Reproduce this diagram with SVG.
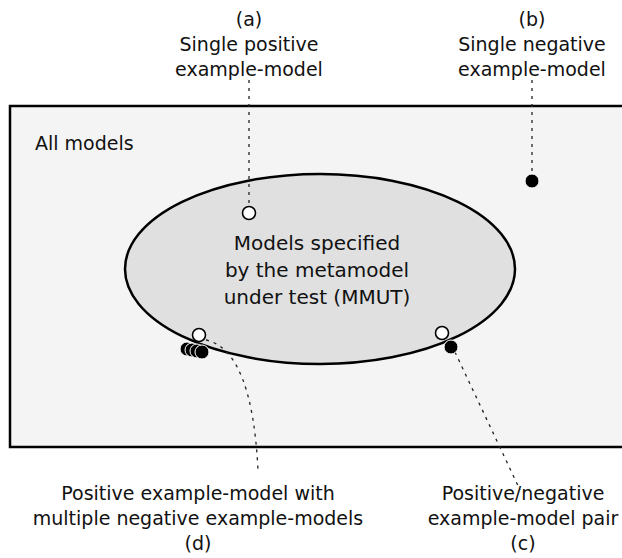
<svg xmlns="http://www.w3.org/2000/svg" width="622" height="558" viewBox="0 0 622 558">
<style>
text{font-family:"DejaVu Sans","Liberation Sans",sans-serif;font-size:19px;fill:#111;text-anchor:middle}
.dot{fill:none;stroke:#222;stroke-width:1.3;stroke-dasharray:3 5}
.pos{fill:#fff;stroke:#000;stroke-width:1.6}
.neg{fill:#000;stroke:#fff;stroke-width:1}
</style>
<g id="all-models">
<rect x="10" y="106" width="640" height="341" fill="#f4f4f4" stroke="#000" stroke-width="2.5"/>
<text x="35" y="150" style="text-anchor:start">All models</text>
</g>
<g id="mmut">
<ellipse cx="320" cy="269" rx="195" ry="95" fill="#e0e0e0" stroke="#000" stroke-width="2.5"/>
<text x="317" y="250" style="font-size:20px">Models specified</text>
<text x="317" y="277" style="font-size:20px">by the metamodel</text>
<text x="317" y="304" style="font-size:20px">under test (MMUT)</text>
</g>
<g id="connectors">
<path class="dot" d="M249 80 V205"/>
<path class="dot" d="M532 80 V174"/>
<path class="dot" d="M455 352 L520 490"/>
<path class="dot" d="M206 340 Q252 350 258 470"/>
</g>
<g id="a">
<circle class="pos" cx="249" cy="213" r="6.5"/>
<text x="249" y="26">(a)</text>
<text x="249" y="51">Single positive</text>
<text x="249" y="76">example-model</text>
</g>
<g id="b">
<circle class="neg" cx="532" cy="181" r="7"/>
<text x="532" y="26">(b)</text>
<text x="532" y="51">Single negative</text>
<text x="532" y="76">example-model</text>
</g>
<g id="c">
<circle class="pos" cx="442" cy="333" r="6.5"/>
<circle class="neg" cx="451" cy="347" r="7"/>
<text x="523" y="500">Positive/negative</text>
<text x="523" y="525">example-model pair</text>
<text x="523" y="550">(c)</text>
</g>
<g id="d">
<circle class="neg" cx="187" cy="349" r="7"/>
<circle class="neg" cx="192" cy="350" r="7"/>
<circle class="neg" cx="197" cy="351" r="7"/>
<circle class="neg" cx="202" cy="352" r="7"/>
<circle class="pos" cx="199" cy="335" r="6.5"/>
<text x="198" y="500">Positive example-model with</text>
<text x="198" y="525">multiple negative example-models</text>
<text x="198" y="550">(d)</text>
</g>
</svg>
